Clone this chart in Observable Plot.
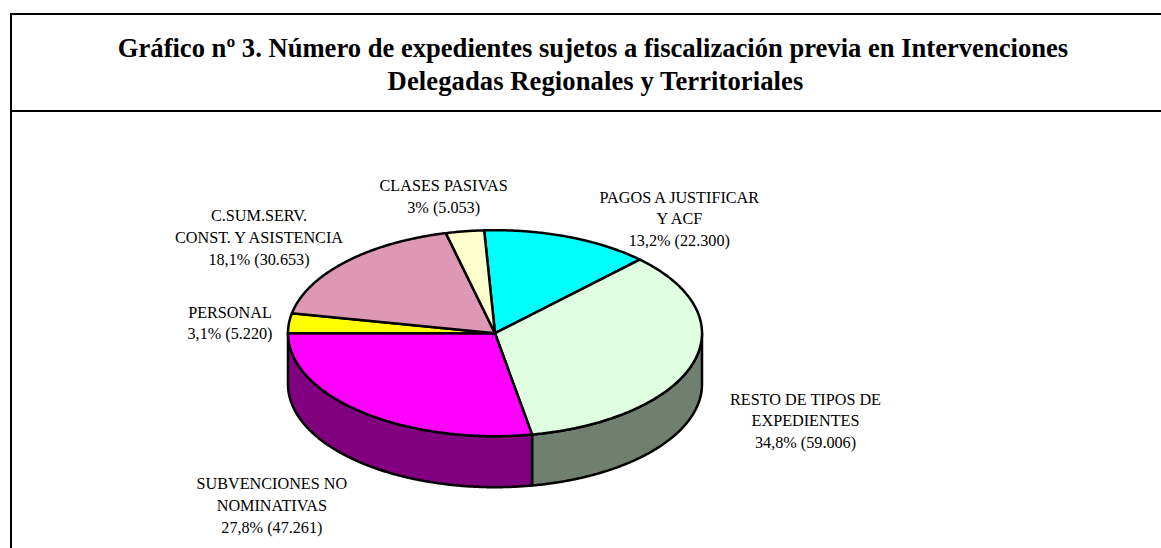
<!DOCTYPE html>
<html lang="es">
<head>
<meta charset="utf-8">
<script src="https://cdn.jsdelivr.net/npm/d3@7"></script>
<script src="https://cdn.jsdelivr.net/npm/@observablehq/plot@0.6"></script>
<style>
  html, body { margin: 0; padding: 0; background: #fff; overflow: hidden; }
  #frame { position: absolute; left: 10px; top: 13px; right: 0; bottom: 0;
           border-left: 2px solid #000; border-top: 2px solid #000; }
  #title { box-sizing: border-box; height: 97px; border-bottom: 2px solid #000;
           font: bold 26.6px/32.5px "Liberation Serif", serif; color: #000; text-align: center;
           padding-left: 13px; padding-top: 17px; white-space: nowrap; }
  #title div:last-child { padding-left: 5px; letter-spacing: 0.08px; }
  #chart svg { display: block; }
</style>
</head>
<body>
<div id="frame">
  <div id="title"><div>Gráfico nº 3. Número de expedientes sujetos a fiscalización previa en Intervenciones</div><div>Delegadas Regionales y Territoriales</div></div>
  <div id="chart"></div>
</div>
<script>
const names = ["PAGOS A JUSTIFICAR\nY ACF", "RESTO DE TIPOS DE\nEXPEDIENTES", "SUBVENCIONES NO\nNOMINATIVAS", "PERSONAL", "C.SUM.SERV.\nCONST. Y ASISTENCIA", "CLASES PASIVAS"];
const values = [22300, 59006, 47261, 5220, 30653, 5053];
const shares = ["13,2%", "34,8%", "27,8%", "3,1%", "18,1%", "3%"];
const amounts = ["22.300", "59.006", "47.261", "5.220", "30.653", "5.053"];
const topColors = ["#00ffff", "#e0ffe0", "#ff00ff", "#ffff00", "#dd99b3", "#ffffcc"];
const sideColors = ["#008080", "#708070", "#800080", "#808000", "#6f4d5a", "#808066"];
const labelDx = [111.2, 112.6, -90.4, -59, -86.4, -21.2];
const labelDy = [-19.5, 56, 91.9, -1.6, -26, -36.3];

const width = 1149, height = 436;
const cx = 482.5, cy = 220.7, rx = 207;   // pie placement in the SVG
const tilt = 103 / 207, depth = 51 / 207, startAngle = -3;

const total = d3.sum(values);
let acc = startAngle;
const slices = values.map((v, i) => {
  const a0 = acc, a1 = acc + v / total * 360;
  acc = a1;
  return {i, a0, a1, mid: (a0 + a1) / 2};
});
const rad = d => d * Math.PI / 180;
const rim = (deg, drop = 0) => ({x: Math.sin(rad(deg)), y: Math.cos(rad(deg)) * tilt - drop});
const arc = (a0, a1, drop = 0) => {
  const n = Math.max(2, Math.ceil((a1 - a0) * 2));
  return d3.range(n + 1).map(k => rim(a0 + (a1 - a0) * k / n, drop));
};
const wedge = s => {
  const p = [{x: 0, y: 0}, ...arc(s.a0, s.a1)];
  return [...p, p[0]];
};
const wall = (a0, a1) => {
  const p = [...arc(a0, a1), ...arc(a0, a1, depth).reverse()];
  return [...p, p[0]];
};
const outline = {stroke: "#000", strokeWidth: 2.5, strokeLinejoin: "round", curve: "linear"};
const walls = slices.filter(s => Math.min(s.a1, 270) > Math.max(s.a0, 90));

const labels = slices.map(s => ({
  ...rim(s.mid),
  text: `${names[s.i]}\n${shares[s.i]} (${amounts[s.i]})`,
  dx: labelDx[s.i], dy: labelDy[s.i]
}));

const plot = Plot.plot({
  width, height, margin: 0,
  x: {domain: [-cx / rx, (width - cx) / rx], range: [0, width], axis: null},
  y: {domain: [(cy - height) / rx, cy / rx], range: [height, 0], axis: null},
  marks: [
    ...walls.map(s => Plot.line(wall(Math.max(s.a0, 90), Math.min(s.a1, 270)), {x: "x", y: "y", fill: sideColors[s.i], ...outline})),
    ...slices.map(s => Plot.line(wedge(s), {x: "x", y: "y", fill: topColors[s.i], ...outline})),
    ...labels.map(l => Plot.text([l], {
      x: "x", y: "y", text: "text", dx: l.dx, dy: l.dy,
      fontFamily: "Liberation Serif", fontSize: 16.2, lineHeight: 1.34, fill: "#000", textAnchor: "middle"
    }))
  ]
});
document.getElementById("chart").append(plot);
</script>
</body>
</html>
